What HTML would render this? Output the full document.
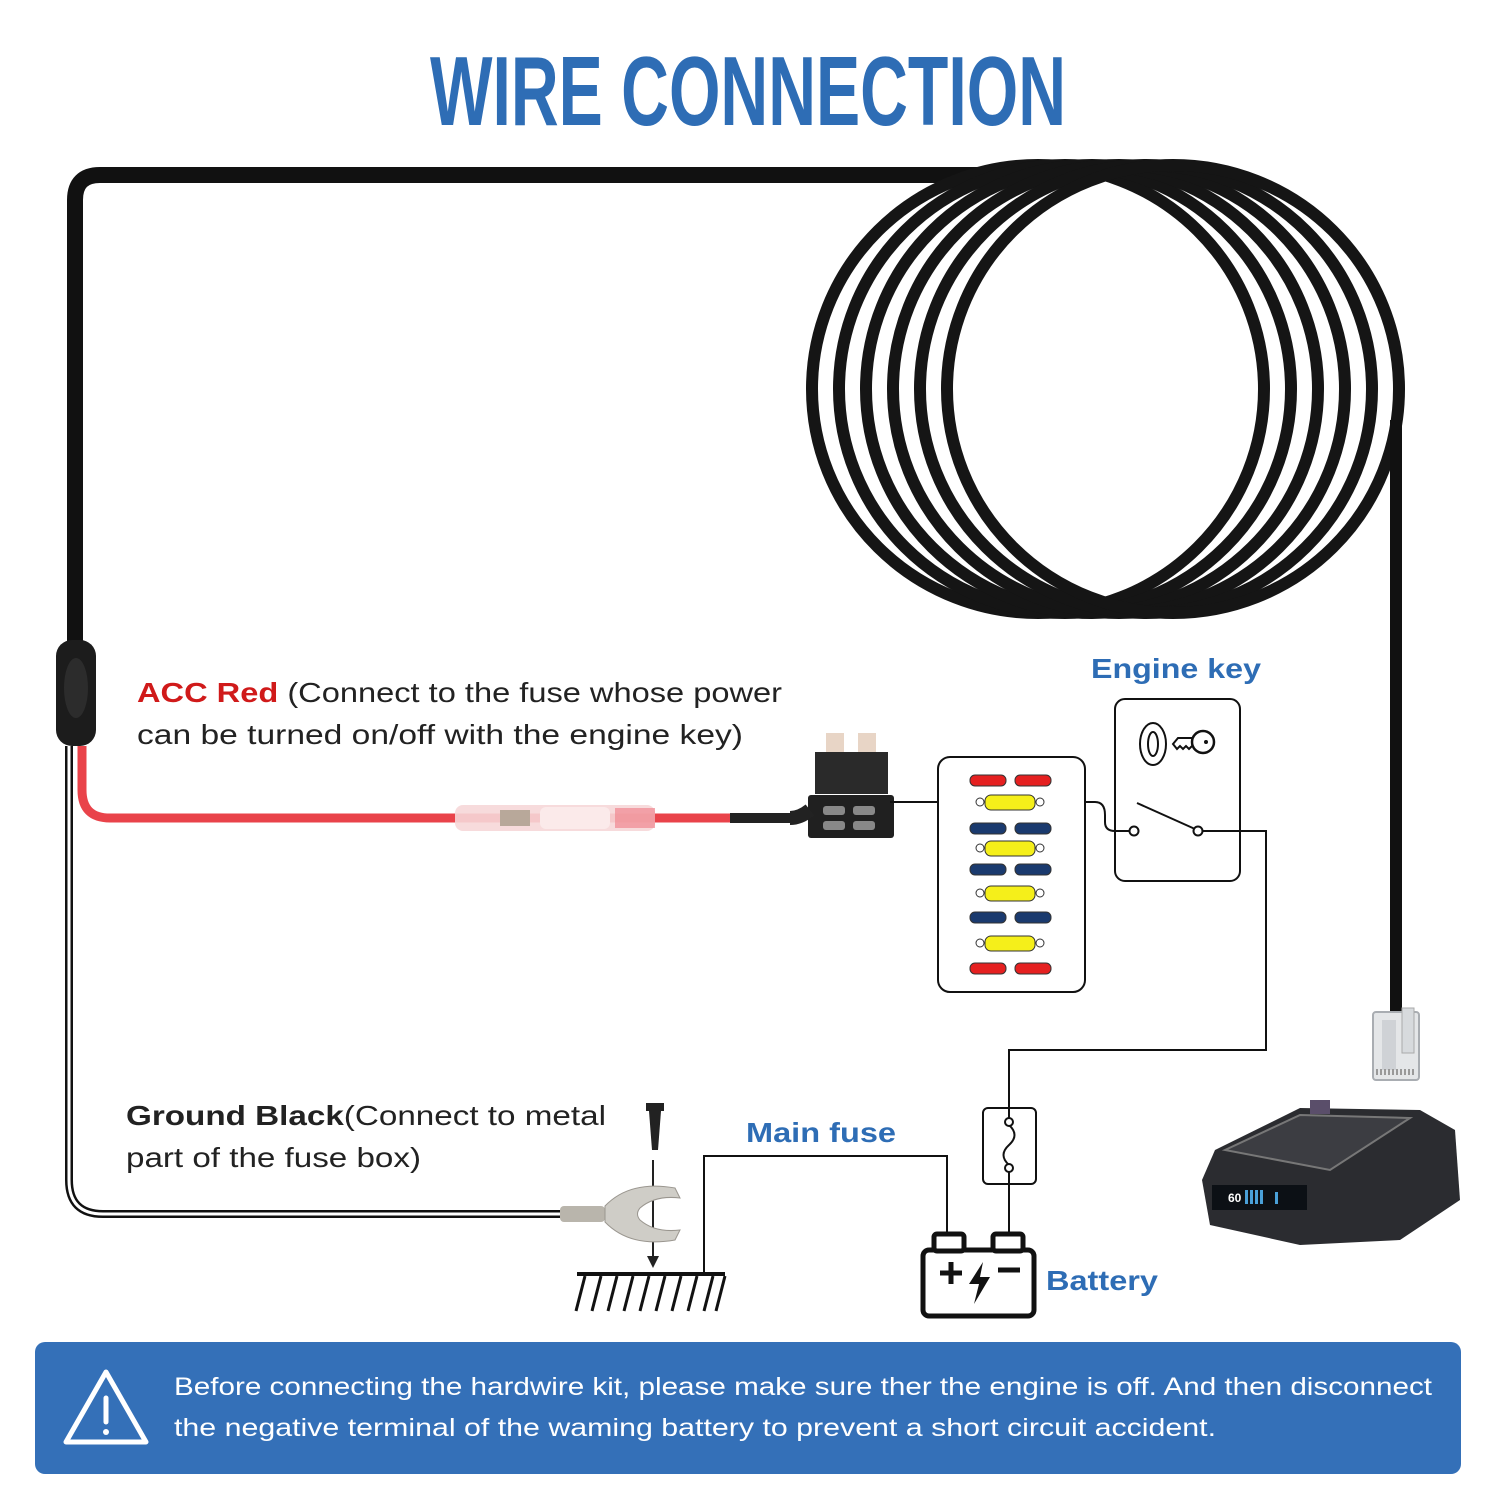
<!DOCTYPE html>
<html><head><meta charset="utf-8"><style>
html,body{margin:0;padding:0;background:#fff;}
svg{display:block;}
</style></head><body>
<svg width="1500" height="1500" viewBox="0 0 1500 1500" xmlns="http://www.w3.org/2000/svg" font-family="Liberation Sans, sans-serif">
<rect width="1500" height="1500" fill="#fff"/>
<text x="748" y="125" text-anchor="middle" font-family="Liberation Sans Narrow, Liberation Sans, sans-serif" font-weight="bold" font-size="98" fill="#2e6db5" textLength="636" lengthAdjust="spacingAndGlyphs">WIRE CONNECTION</text>

<path d="M75,650 L75,200 Q75,175 100,175 L1010,175" fill="none" stroke="#111" stroke-width="16"/>
<g fill="none" stroke="#151515" stroke-width="12">
<ellipse cx="1038" cy="389" rx="226" ry="224"/>
<ellipse cx="1065" cy="389" rx="226" ry="224"/>
<ellipse cx="1092" cy="389" rx="226" ry="224"/>
<ellipse cx="1119" cy="389" rx="226" ry="224"/>
<ellipse cx="1146" cy="389" rx="226" ry="224"/>
<ellipse cx="1173" cy="389" rx="226" ry="224"/>
</g>
<path d="M1396,420 L1396,1015" stroke="#111" stroke-width="12" fill="none"/>
<rect x="1373" y="1012" width="46" height="68" rx="3" fill="#e4e6e8" stroke="#a9adb2" stroke-width="2"/>
<rect x="1382" y="1020" width="14" height="50" fill="#cfd2d6"/>
<rect x="1402" y="1008" width="12" height="45" fill="#d7dadd" stroke="#aaa"/>
<line x1="1376" y1="1072" x2="1416" y2="1072" stroke="#999" stroke-dasharray="2 2" stroke-width="6"/>

<rect x="56" y="640" width="40" height="106" rx="16" fill="#1c1c1c"/>
<ellipse cx="76" cy="688" rx="12" ry="30" fill="#2c2c2c"/>
<path d="M69,746 L69,1180 Q69,1214 103,1214 L565,1214" fill="none" stroke="#111" stroke-width="8"/>
<path d="M69,746 L69,1180 Q69,1214 103,1214 L565,1214" fill="none" stroke="#fff" stroke-width="3"/>
<path d="M82,746 L82,790 Q82,818 110,818 L735,818" fill="none" stroke="#e9434a" stroke-width="9"/>
<path d="M730,818 L800,818" stroke="#222" stroke-width="10"/>
<rect x="455" y="805" width="200" height="26" rx="8" fill="#f6d7d8" opacity="0.9"/>
<rect x="500" y="810" width="30" height="16" fill="#b8a89a"/>
<rect x="540" y="807" width="70" height="22" rx="6" fill="#fbeaea"/>
<rect x="615" y="808" width="40" height="20" fill="#f08890" opacity="0.7"/>
<rect x="826" y="733" width="18" height="22" fill="#e8d5c6"/>
<rect x="858" y="733" width="18" height="22" fill="#e8d5c6"/>
<rect x="815" y="752" width="73" height="42" fill="#2a2a2a"/>
<rect x="808" y="795" width="86" height="43" rx="3" fill="#202020"/>
<rect x="823" y="806" width="22" height="9" rx="3" fill="#888"/><rect x="853" y="806" width="22" height="9" rx="3" fill="#888"/>
<rect x="823" y="821" width="22" height="9" rx="3" fill="#888"/><rect x="853" y="821" width="22" height="9" rx="3" fill="#888"/>
<path d="M790,818 Q800,818 810,810" stroke="#222" stroke-width="14" fill="none"/>

<g fill="none" stroke="#111" stroke-width="2">
<line x1="890" y1="802" x2="980" y2="802"/>
<path d="M1040,802 L1095,802 Q1105,802 1105,815 L1105,822 Q1105,831 1115,831 L1130,831"/>
<path d="M1198,831 L1266,831 L1266,1050 L1009,1050 L1009,1232"/>
<path d="M704,1273 L704,1156 L947,1156 L947,1232"/>
</g>

<rect x="938" y="757" width="147" height="235" rx="12" fill="#fff" stroke="#111" stroke-width="2"/>
<g stroke="#333" stroke-width="1">
<g fill="#e52020"><rect x="970" y="775" width="36" height="11" rx="5"/><rect x="1015" y="775" width="36" height="11" rx="5"/><rect x="970" y="963" width="36" height="11" rx="5"/><rect x="1015" y="963" width="36" height="11" rx="5"/></g>
<g fill="#1a3a6e"><rect x="970" y="823" width="36" height="11" rx="5"/><rect x="1015" y="823" width="36" height="11" rx="5"/><rect x="970" y="864" width="36" height="11" rx="5"/><rect x="1015" y="864" width="36" height="11" rx="5"/><rect x="970" y="912" width="36" height="11" rx="5"/><rect x="1015" y="912" width="36" height="11" rx="5"/></g>
<g fill="#f5ef1a"><rect x="985" y="795" width="50" height="15" rx="6"/><rect x="985" y="841" width="50" height="15" rx="6"/><rect x="985" y="886" width="50" height="15" rx="6"/><rect x="985" y="936" width="50" height="15" rx="6"/></g>
<g fill="#fff"><circle cx="980" cy="802" r="4"/><circle cx="1040" cy="802" r="4"/><circle cx="980" cy="848" r="4"/><circle cx="1040" cy="848" r="4"/><circle cx="980" cy="893" r="4"/><circle cx="1040" cy="893" r="4"/><circle cx="980" cy="943" r="4"/><circle cx="1040" cy="943" r="4"/></g>
</g>

<rect x="1115" y="699" width="125" height="182" rx="10" fill="none" stroke="#111" stroke-width="2"/>
<ellipse cx="1153" cy="744" rx="13" ry="21" fill="none" stroke="#111" stroke-width="2"/>
<ellipse cx="1153" cy="744" rx="5" ry="12" fill="none" stroke="#111" stroke-width="2"/>
<circle cx="1203" cy="742" r="11" fill="none" stroke="#111" stroke-width="2.5"/><circle cx="1206" cy="742" r="2" fill="#111"/>
<path d="M1192,738 L1178,738 L1173,744 L1177,749 L1180,746 L1183,749 L1186,746 L1189,749 L1192,746" fill="none" stroke="#111" stroke-width="2"/>
<line x1="1137" y1="803" x2="1195" y2="829" stroke="#111" stroke-width="2"/>
<circle cx="1134" cy="831" r="4.5" fill="#fff" stroke="#111" stroke-width="2"/>
<circle cx="1198" cy="831" r="4.5" fill="#fff" stroke="#111" stroke-width="2"/>

<rect x="983" y="1108" width="53" height="76" rx="5" fill="#fff" stroke="#111" stroke-width="2"/>
<line x1="1009" y1="1108" x2="1009" y2="1118" stroke="#111" stroke-width="2"/>
<path d="M1009,1125 Q1020,1135 1009,1145 Q998,1155 1009,1165" fill="none" stroke="#111" stroke-width="2"/>
<circle cx="1009" cy="1122" r="4" fill="#fff" stroke="#111" stroke-width="2"/><circle cx="1009" cy="1168" r="4" fill="#fff" stroke="#111" stroke-width="2"/>
<line x1="1009" y1="1172" x2="1009" y2="1184" stroke="#111" stroke-width="2"/>

<rect x="923" y="1250" width="111" height="66" rx="6" fill="#fff" stroke="#111" stroke-width="5"/>
<rect x="934" y="1234" width="30" height="17" rx="3" fill="#fff" stroke="#111" stroke-width="5"/>
<rect x="993" y="1234" width="30" height="17" rx="3" fill="#fff" stroke="#111" stroke-width="5"/>
<path d="M940,1273 h22 M951,1262 v22 M998,1270 h22" stroke="#111" stroke-width="5"/>
<path d="M983,1262 L969,1284 L979,1284 L974,1304 L990,1277 L980,1277 Z" fill="#111"/>

<line x1="577" y1="1274" x2="725" y2="1274" stroke="#111" stroke-width="4"/>
<g stroke="#111" stroke-width="3">
<line x1="585" y1="1276" x2="576" y2="1311"/><line x1="601" y1="1276" x2="592" y2="1311"/><line x1="617" y1="1276" x2="608" y2="1311"/><line x1="633" y1="1276" x2="624" y2="1311"/><line x1="649" y1="1276" x2="640" y2="1311"/><line x1="665" y1="1276" x2="656" y2="1311"/><line x1="681" y1="1276" x2="672" y2="1311"/><line x1="697" y1="1276" x2="688" y2="1311"/><line x1="713" y1="1276" x2="704" y2="1311"/><line x1="725" y1="1276" x2="716" y2="1311"/>
</g>
<rect x="646" y="1103" width="18" height="8" fill="#222"/>
<path d="M649,1111 L661,1111 L658,1150 L652,1150 Z" fill="#222"/>
<line x1="653" y1="1160" x2="653" y2="1258" stroke="#222" stroke-width="2"/>
<path d="M647,1256 L659,1256 L653,1268 Z" fill="#222"/>
<rect x="560" y="1206" width="45" height="16" rx="4" fill="#b9b5ac"/>
<path d="M605,1206 Q630,1180 675,1188 L680,1198 Q655,1195 640,1208 Q635,1214 640,1220 Q655,1233 680,1230 L675,1240 Q630,1248 605,1222 Z" fill="#cfcdc7" stroke="#9a968f"/>

<text x="137" y="702" font-size="28" textLength="645" lengthAdjust="spacingAndGlyphs"><tspan font-weight="bold" fill="#d01a1a">ACC Red</tspan><tspan fill="#222"> (Connect to the fuse whose power</tspan></text>
<text x="137" y="744" font-size="28" fill="#222" textLength="606" lengthAdjust="spacingAndGlyphs">can be turned on/off with the engine key)</text>
<text x="126" y="1125" font-size="28" fill="#222" textLength="480" lengthAdjust="spacingAndGlyphs"><tspan font-weight="bold">Ground Black</tspan>(Connect to metal</text>
<text x="126" y="1167" font-size="28" fill="#222" textLength="295" lengthAdjust="spacingAndGlyphs">part of the fuse box)</text>
<text x="1091" y="678" font-size="28" font-weight="bold" fill="#2e6db5" textLength="170" lengthAdjust="spacingAndGlyphs">Engine key</text>
<text x="746" y="1142" font-size="28" font-weight="bold" fill="#2e6db5" textLength="150" lengthAdjust="spacingAndGlyphs">Main fuse</text>
<text x="1046" y="1290" font-size="28" font-weight="bold" fill="#2e6db5" textLength="112" lengthAdjust="spacingAndGlyphs">Battery</text>

<path d="M1215,1150 L1300,1108 L1420,1110 L1455,1130 L1460,1200 L1400,1240 L1300,1245 L1210,1225 L1202,1180 Z" fill="#2b2c30"/>
<path d="M1225,1150 L1300,1115 L1410,1118 L1330,1170 Z" fill="#3c3d42" stroke="#777" stroke-width="2"/>
<rect x="1212" y="1185" width="95" height="25" fill="#0c1015"/>
<text x="1228" y="1202" font-size="12" font-weight="bold" fill="#fff">60</text>
<g fill="#4aa0d8"><rect x="1245" y="1190" width="3" height="14"/><rect x="1250" y="1190" width="3" height="14"/><rect x="1255" y="1190" width="3" height="14"/><rect x="1260" y="1190" width="3" height="14"/><rect x="1275" y="1192" width="3" height="12"/></g>
<rect x="1310" y="1100" width="20" height="14" fill="#5a4e6a"/>

<rect x="35" y="1342" width="1426" height="132" rx="10" fill="#3470b8"/>
<path d="M106,1372 L146,1442 L66,1442 Z" fill="none" stroke="#fff" stroke-width="5" stroke-linejoin="round"/>
<line x1="106" y1="1398" x2="106" y2="1422" stroke="#fff" stroke-width="5" stroke-linecap="round"/>
<circle cx="106" cy="1432" r="3" fill="#fff"/>
<text x="174" y="1395" font-size="25" fill="#fff" textLength="1258" lengthAdjust="spacingAndGlyphs">Before connecting the hardwire kit, please make sure ther the engine is off. And then disconnect</text>
<text x="174" y="1436" font-size="25" fill="#fff" textLength="1042" lengthAdjust="spacingAndGlyphs">the negative terminal of the waming battery to prevent a short circuit accident.</text>
</svg>
</body></html>
